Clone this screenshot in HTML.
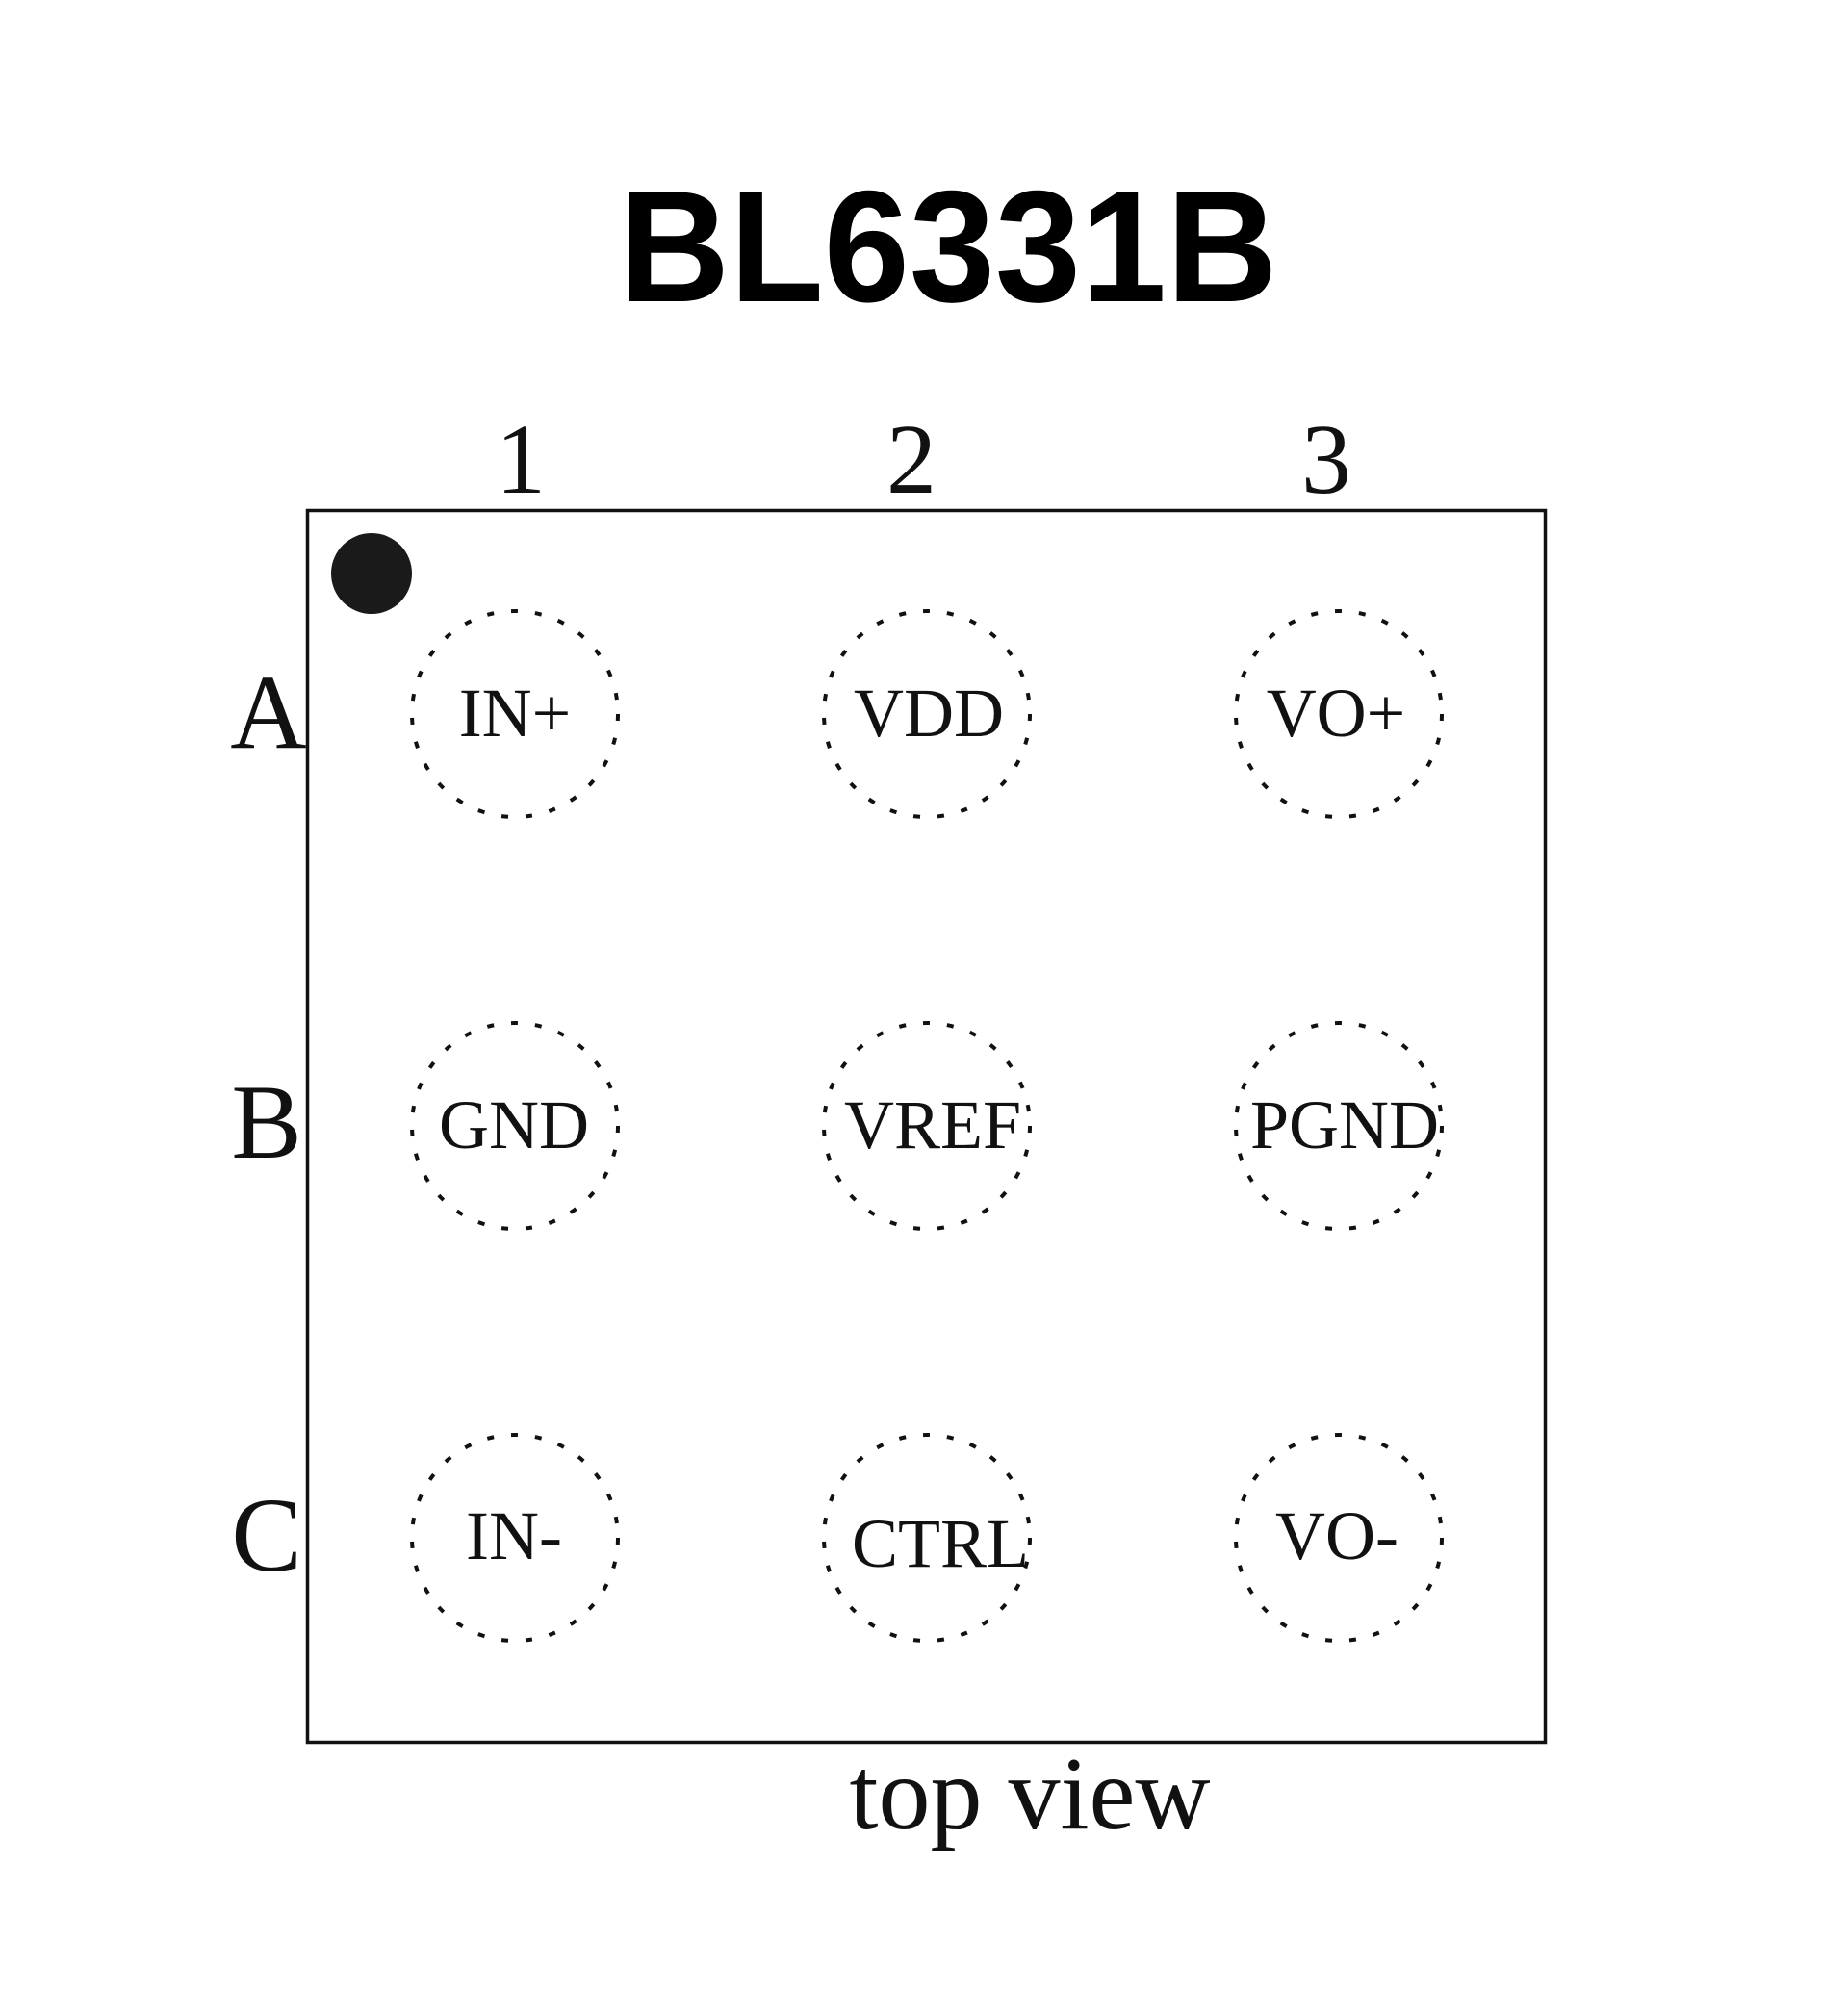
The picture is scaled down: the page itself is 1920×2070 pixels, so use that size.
<!DOCTYPE html>
<html><head><meta charset="utf-8"><style>
html,body{margin:0;padding:0;background:#fff;}
svg{display:block}
</style></head><body>
<svg width="1920" height="2070" viewBox="0 0 1920 2070" xmlns="http://www.w3.org/2000/svg">
<rect width="1920" height="2070" fill="#fff"/>
<text x="985" y="313" text-anchor="middle" font-family="Liberation Sans, sans-serif" font-weight="bold" font-size="165" textLength="685" lengthAdjust="spacingAndGlyphs" fill="#000">BL6331B</text>
<g font-family="Liberation Serif, serif" font-size="104" fill="#111" text-anchor="middle">
<text x="541" y="512">1</text>
<text x="947" y="512">2</text>
<text x="1378" y="512">3</text>
</g>
<g font-family="Liberation Serif, serif" font-size="110" fill="#111" text-anchor="middle">
<text x="279" y="777">A</text>
<text x="277" y="1203">B</text>
<text x="277" y="1632">C</text>
</g>
<rect x="319.5" y="530.5" width="1286" height="1280" fill="none" stroke="#111" stroke-width="3.5"/>
<circle cx="386" cy="596" r="42" fill="#1a1a1a"/>
<g fill="none" stroke="#111" stroke-width="4" stroke-dasharray="7 18">
<circle cx="535" cy="742" r="107"/>
<circle cx="963" cy="742" r="107"/>
<circle cx="1391" cy="742" r="107"/>
<circle cx="535" cy="1170" r="107"/>
<circle cx="963" cy="1170" r="107"/>
<circle cx="1391" cy="1170" r="107"/>
<circle cx="535" cy="1598" r="107"/>
<circle cx="963" cy="1598" r="107"/>
<circle cx="1391" cy="1598" r="107"/>
</g>
<g font-family="Liberation Serif, serif" font-size="72" fill="#111" text-anchor="middle">
<text x="535" y="765">IN+</text>
<text x="965" y="765">VDD</text>
<text x="1388" y="765">VO+</text>
<text x="534" y="1193">GND</text>
<text x="969" y="1193">VREF</text>
<text x="1397" y="1193">PGND</text>
<text x="534" y="1620">IN-</text>
<text x="977" y="1628">CTRL</text>
<text x="1389" y="1620">VO-</text>
</g>
<text x="1070" y="1900" text-anchor="middle" font-family="Liberation Serif, serif" font-size="108" fill="#111">top view</text>
</svg>
</body></html>
